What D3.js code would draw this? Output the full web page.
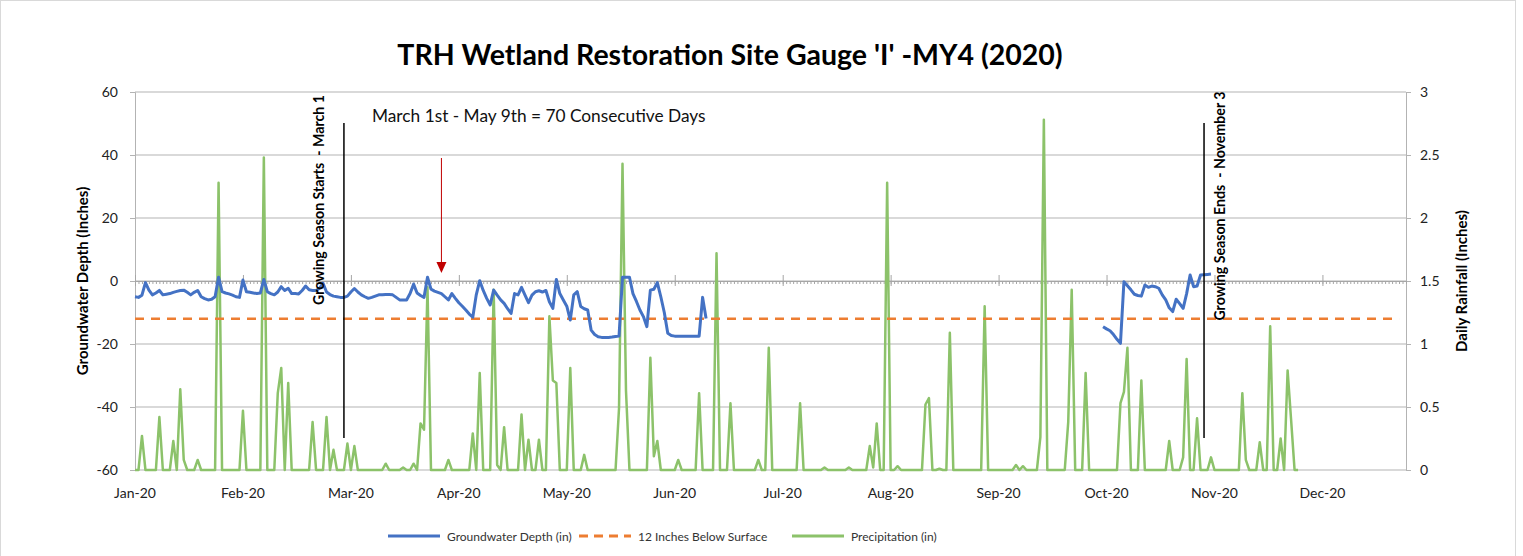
<!DOCTYPE html>
<html>
<head>
<meta charset="utf-8">
<script src="https://cdn.jsdelivr.net/npm/d3@7"></script>
<style>
  body { margin: 0; background: #fff; }
  text { font-family: Lato, "Open Sans", sans-serif; white-space: pre; }
</style>
</head>
<body>
<div class="chart"></div>
<script>
// groundwater depth (in), one value per day
let gwSpringStart = "2020-01-01";
let gwSpring = [
  -5, -5.2, -4.5, -0.5, -2.9, -4.4, -3.8, -3, -4.4, -4.2,
  -4, -3.6, -3.3, -3, -2.9, -3.6, -4.4, -3.6, -3, -5,
  -5.6, -6, -5.8, -5, 1.2, -3.4, -3.8, -4.1, -4.5, -5,
  -5.2, 0.3, -3.4, -3.6, -3.8, -4, -3.8, 0.5, -3.4, -4,
  -4.4, -3.5, -1.8, -3, -2.3, -4, -4, -4.1, -3, -1.6,
  -2.8, -3, -3, -2.3, -0.7, -3.5, -4.3, -4.8, -5, -5.2,
  -5.2, -4.8, -3.5, -2.4, -3.5, -4.4, -5, -5.5, -5.2, -4.8,
  -4.4, -4.4, -4.3, -4.3, -4.4, -5.2, -6, -6, -6, -4,
  -1, -3.8, -4.6, -5.2, 1.2, -2.6, -3.2, -3.6, -4, -5,
  -6, -4, -5.5, -6.9, -8, -9.2, -10.5, -11.5, -4.4, 0.1,
  -3, -5.5, -7.6, -2.9, -4.5, -6, -7.1, -8.8, -10.3, -4,
  -4.4, -2, -4.5, -6.9, -4.5, -3.4, -3.1, -3.5, -3, -6.6,
  -8.7, 0.5, -4, -6, -8, -12.4, -4.4, -3.4, -8.1, -8.8,
  -9.2, -15.6, -17, -17.7, -17.9, -17.9, -17.9, -17.8, -17.6, -17.5,
  1.2, 1.2, 1.2, -4, -6.5, -9.2, -11.3, -14.5, -2.9, -2.6,
  -0.5, -5, -10, -16.6, -17.3, -17.5, -17.5, -17.5, -17.5, -17.5,
  -17.5, -17.5, -17.5, -5.2, -11.9
];
let gwFallStart = "2020-10-05";
let gwFall = [
  -14.5, -15.2, -15.8, -17, -18.5, -19.8, -0.2, -1.5, -2.8, -4.2,
  -4.6, -4.8, -1.3, -2, -1.6, -1.8, -2.3, -4.4, -6, -8.5,
  -9.7, -5.8, -7.2, -8.7, -4, 1.9, -1.8, -1.6, 1.9, 2,
  2.1, 2.2
];

// rainy days (day of year from Jan 1, inches); all other days to Nov 30 are 0
let rainDays = [2, 7, 11, 13, 14, 18, 24, 31, 37, 41, 42, 44, 51, 55, 57, 61, 63,
  72, 77, 80, 82, 83, 84, 90, 97, 99, 103, 104, 106, 111, 113, 116, 119, 120, 121,
  125, 129, 139, 140, 141, 148, 149, 150, 156, 162, 167, 171, 179, 182, 191, 198,
  205, 211, 212, 213, 216, 219, 227, 228, 231, 234, 244, 253, 255, 260, 261, 268,
  269, 273, 283, 284, 285, 289, 297, 301, 302, 305, 309, 318, 319, 323, 326, 329,
  331, 332];
let rainInches = [0.27, 0.42, 0.23, 0.64, 0.08, 0.08, 2.28, 0.47, 2.48, 0.61, 0.81, 0.69, 0.38, 0.42, 0.16, 0.21, 0.19,
  0.05, 0.02, 0.05, 0.37, 0.32, 1.45, 0.08, 0.29, 0.77, 1.43, 0.04, 0.34, 0.44, 0.24, 0.24, 1.22, 0.71, 0.69,
  0.81, 0.12, 0.49, 2.43, 0.63, 0.89, 0.11, 0.23, 0.08, 0.61, 1.72, 0.53, 0.08, 0.97, 0.53, 0.02,
  0.02, 0.19, 0.02, 0.37, 2.28, 0.03, 0.52, 0.57, 0.01, 1.09, 1.30, 0.04, 0.03, 0.26, 2.78, 0.38,
  1.43, 0.77, 0.53, 0.62, 0.97, 0.71, 0.23, 0.1, 0.88, 0.41, 0.1, 0.61, 0.08, 0.22, 1.14, 0.25,
  0.79, 0.4];
let rainLastDay = 334;

let thresholdDepth = -12;
let xTickLabels = ["Jan-20", "Feb-20", "Mar-20", "Apr-20", "May-20", "Jun-20",
  "Jul-20", "Aug-20", "Sep-20", "Oct-20", "Nov-20", "Dec-20"];
let leftTicks = [60, 40, 20, 0, -20, -40, -60];
let rightTicks = [0, 0.5, 1, 1.5, 2, 2.5, 3];
let seasonMarks = [
  { date: "2020-03-01", label: "Growing Season Starts  - March 1", ty: 200, tx: -25 },
  { date: "2020-11-03", label: "Growing Season Ends  - November 3", ty: 206, tx: 16 }
];
let legendNames = ["Groundwater Depth (in)", "12 Inches Below Surface", "Precipitation (in)"];

const W = 1523, H = 556;
const blue = "#4472c4", orange = "#ed7d31", green = "#8cc26a";
const parse = d3.timeParse("%Y-%m-%d");
const jan1 = parse("2020-01-01");
const day = (n) => d3.timeDay.offset(jan1, n);
const plain = (d) => String(d);   // hyphen minus, like the source

let svg = d3.select(".chart").append("svg")
  .attr("width", W).attr("height", H);

svg.append("rect")
  .attr("x", 0.5).attr("y", 0.5).attr("width", 1515).attr("height", 570)
  .attr("fill", "#fff").attr("stroke", "#d9d9d9");

let x = d3.scaleTime().domain([jan1, day(365)]).range([135, 1406]);
let y = d3.scaleLinear().domain([-60, 60]).range([470, 92]);
let y2 = d3.scaleLinear().domain([0, 3]).range([470, 92]);

// gridlines
svg.append("g")
  .selectAll("line").data(leftTicks).enter().append("line")
    .attr("x1", 135).attr("x2", 1406)
    .attr("y1", (d) => y(d)).attr("y2", (d) => y(d))
    .attr("stroke", "#b3b3b3").attr("stroke-width", 1);

// left axis
let leftAxis = svg.append("g")
  .attr("transform", "translate(135,0)")
  .call(d3.axisLeft(y).tickValues(leftTicks).tickSize(5).tickPadding(12).tickFormat(plain));
leftAxis.select(".domain").attr("stroke", "#b3b3b3");
leftAxis.selectAll(".tick line").attr("stroke", "#b3b3b3");
leftAxis.selectAll("text").attr("font-size", 14).attr("fill", "#222")
  .style("font-family", "Lato, sans-serif");

// right axis
let rightAxis = svg.append("g")
  .attr("transform", "translate(1406,0)")
  .call(d3.axisRight(y2).tickValues(rightTicks).tickSize(5).tickPadding(9).tickFormat(plain));
rightAxis.select(".domain").attr("stroke", "#b3b3b3");
rightAxis.selectAll(".tick line").attr("stroke", "#b3b3b3");
rightAxis.selectAll("text").attr("font-size", 14).attr("fill", "#222")
  .style("font-family", "Lato, sans-serif");

// x axis sits on the zero line: daily minor ticks, major every 31 days
let allDays = d3.range(0, 366).map(day);
let minor = svg.append("g")
  .attr("transform", "translate(0," + y(0) + ")")
  .call(d3.axisBottom(x).tickValues(allDays).tickSize(3).tickFormat(""));
minor.select(".domain").attr("stroke", "#a6a6a6");
minor.selectAll(".tick line").attr("stroke", "#a6a6a6");

let majorDays = xTickLabels.map((d, i) => day(i * 31));
let major = svg.append("g")
  .attr("transform", "translate(0," + y(0) + ")")
  .call(d3.axisBottom(x).tickValues(majorDays).tickSize(5).tickFormat(""));
major.select(".domain").remove();
major.selectAll(".tick line").attr("y1", -6).attr("stroke", "#a6a6a6");

// month labels at the bottom
svg.append("g").selectAll("text").data(xTickLabels).enter().append("text")
  .attr("x", (d, i) => x(majorDays[i]))
  .attr("y", 498)
  .attr("text-anchor", "middle")
  .attr("font-size", 14).attr("fill", "#222")
  .text((d) => d);

// precipitation
let rainSeries = d3.range(0, rainLastDay + 1).map((n) => {
  let k = rainDays.indexOf(n);
  return { date: day(n), v: k < 0 ? 0 : rainInches[k] };
});
svg.append("path")
  .datum(rainSeries)
  .attr("fill", "none").attr("stroke", green).attr("stroke-width", 2.5)
  .attr("stroke-linejoin", "round")
  .attr("d", d3.line().x((d) => x(d.date)).y((d) => y2(d.v)));

// 12 inch threshold
svg.append("path")
  .datum(d3.range(0, 364).map(day))
  .attr("fill", "none").attr("stroke", orange).attr("stroke-width", 2.5)
  .attr("stroke-dasharray", "9,7")
  .attr("d", d3.line().x((d) => x(d)).y(y(thresholdDepth)));

// groundwater
let gwLine = d3.line().x((d) => x(d.date)).y((d) => y(d.v));
[[gwSpringStart, gwSpring], [gwFallStart, gwFall]].forEach(([start, vals]) => {
  let s = parse(start);
  svg.append("path")
    .datum(vals.map((v, i) => ({ date: d3.timeDay.offset(s, i), v: v })))
    .attr("fill", "none").attr("stroke", blue).attr("stroke-width", 3)
    .attr("stroke-linejoin", "round")
    .attr("d", gwLine);
});

// growing season markers
seasonMarks.forEach((m) => {
  let mx = x(parse(m.date));
  svg.append("line")
    .attr("x1", mx).attr("x2", mx).attr("y1", 123).attr("y2", 438)
    .attr("stroke", "#000").attr("stroke-width", 1.5);
  svg.append("text")
    .attr("transform", "translate(" + (mx + m.tx) + "," + m.ty + ")rotate(-90)")
    .attr("text-anchor", "middle").attr("dy", "0.35em")
    .attr("font-size", 14.2).attr("font-weight", "bold")
    .text(m.label);
});

// consecutive days annotation + red arrow
svg.append("text")
  .attr("x", 372).attr("y", 122)
  .attr("font-size", 17.3).attr("fill", "#111")
  .text("March 1st - May 9th = 70 Consecutive Days");
let ax = x(parse("2020-03-29"));
svg.append("line")
  .attr("x1", ax).attr("x2", ax).attr("y1", 158).attr("y2", 264)
  .attr("stroke", "#c00000").attr("stroke-width", 1);
svg.append("path")
  .attr("d", "M" + (ax - 5) + ",262L" + (ax + 5) + ",262L" + ax + ",273Z")
  .attr("fill", "#c00000");

// titles
svg.append("text")
  .attr("x", 730).attr("y", 65).attr("text-anchor", "middle")
  .attr("font-size", 28.5).attr("font-weight", "bold").attr("fill", "#000")
  .text("TRH Wetland Restoration Site Gauge 'I' -MY4 (2020)");

svg.append("text")
  .attr("transform", "translate(83,281)rotate(-90)")
  .attr("text-anchor", "middle").attr("dy", "0.35em")
  .attr("font-size", 15).attr("font-weight", "bold")
  .text("Groundwater Depth (Inches)");

svg.append("text")
  .attr("transform", "translate(1462,281)rotate(-90)")
  .attr("text-anchor", "middle").attr("dy", "0.35em")
  .attr("font-size", 15).attr("font-weight", "bold")
  .text("Daily Rainfall (Inches)");

// legend
let legendX = [388, 579, 792];
let legendStyle = [
  { c: blue, dash: null }, { c: orange, dash: "9,6" }, { c: green, dash: null }
];
legendNames.forEach((name, i) => {
  svg.append("line")
    .attr("x1", legendX[i]).attr("x2", legendX[i] + 52)
    .attr("y1", 536).attr("y2", 536)
    .attr("stroke", legendStyle[i].c).attr("stroke-width", 3)
    .attr("stroke-dasharray", legendStyle[i].dash);
  svg.append("text")
    .attr("x", legendX[i] + 59).attr("y", 541)
    .attr("font-size", 12).attr("fill", "#333")
    .text(name);
});
</script>
</body>
</html>
